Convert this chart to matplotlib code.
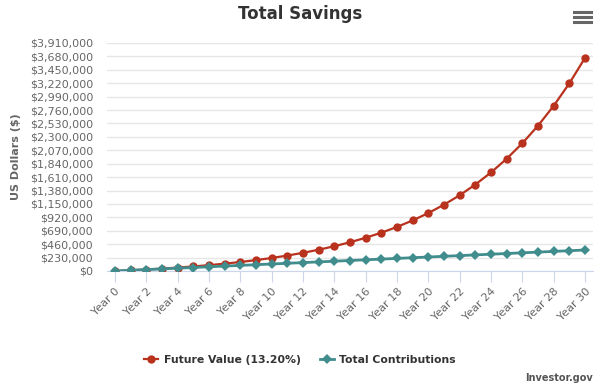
import matplotlib
matplotlib.use("Agg")
import matplotlib.pyplot as plt
from matplotlib.ticker import FuncFormatter, MultipleLocator
from matplotlib.lines import Line2D

plt.rcParams["font.family"] = ["DejaVu Sans"]

years = list(range(0, 31))
year_labels = [f"Year {y}" for y in years]
future_value = [0, 12000, 25600, 41000, 58400, 78100, 100400, 125600, 154200,
                186600, 223200, 264700, 311600, 364700, 424900, 492900, 570000,
                657300, 756000, 867800, 994400, 1137600, 1299800, 1483300,
                1691100, 1926400, 2192700, 2494100, 2835300, 3221600, 3658800]
contributions = [0, 12000, 24000, 36000, 48000, 60000, 72000, 84000, 96000,
                 108000, 120000, 132000, 144000, 156000, 168000, 180000, 192000,
                 204000, 216000, 228000, 240000, 252000, 264000, 276000, 288000,
                 300000, 312000, 324000, 336000, 348000, 360000]

RED = "#b8321e"
TEAL = "#418d8e"

fig = plt.figure(figsize=(6, 3.85), dpi=100)
ax = fig.add_axes([107 / 600, 114 / 385, 486 / 600, 228 / 385])

ax.plot(years, future_value, color=RED, lw=1.6, marker="o", ms=6,
        markeredgewidth=0, zorder=3, label="Future Value (13.20%)")
ax.plot(years, contributions, color=TEAL, lw=2.0, marker="D", ms=5,
        markeredgewidth=0, zorder=4, label="Total Contributions")

ax.set_xlim(-0.5, 30.5)
ax.set_ylim(0, 3910000)
ax.yaxis.set_major_locator(MultipleLocator(230000))
ax.yaxis.set_major_formatter(FuncFormatter(lambda v, p: f"${v:,.0f}"))
ax.grid(axis="y", color="#e6e6e6", lw=1)
ax.set_axisbelow(True)

ax.set_xticks(years[::2])
ax.set_xticklabels(year_labels[::2], rotation=45, ha="right",
                   rotation_mode="anchor")
ax.tick_params(axis="x", length=8, color="#ccd6eb", labelsize=8,
               labelcolor="#666666", pad=3)
ax.tick_params(axis="y", length=0, labelsize=8, labelcolor="#666666", pad=10)

for s in ("top", "right", "left"):
    ax.spines[s].set_visible(False)
ax.spines["bottom"].set_color("#ccd6eb")

ax.set_ylabel("US Dollars ($)", fontsize=8, fontweight="bold",
              color="#666666", labelpad=6)

fig.text(0.5, 1 - 14 / 385, "Total Savings", ha="center", va="center",
         fontsize=12, fontweight="bold", color="#333333")

# export menu icon
for yy in (12, 17, 22):
    fig.add_artist(Line2D([574 / 600, 591 / 600], [1 - yy / 385] * 2,
                          color="#666666", lw=2.2))

leg = fig.legend(loc="center", bbox_to_anchor=(0.5, 1 - 360 / 385), ncol=2,
                 frameon=False, prop={"size": 7.8, "weight": "bold"},
                 handlelength=1.3, columnspacing=1.8, handletextpad=0.5)
for t in leg.get_texts():
    t.set_color("#333333")

fig.text(593 / 600, 1 - 378 / 385, "Investor.gov", ha="right", va="center",
         fontsize=7, fontweight="bold", color="#555555")

fig.savefig("out.png", dpi=100)
